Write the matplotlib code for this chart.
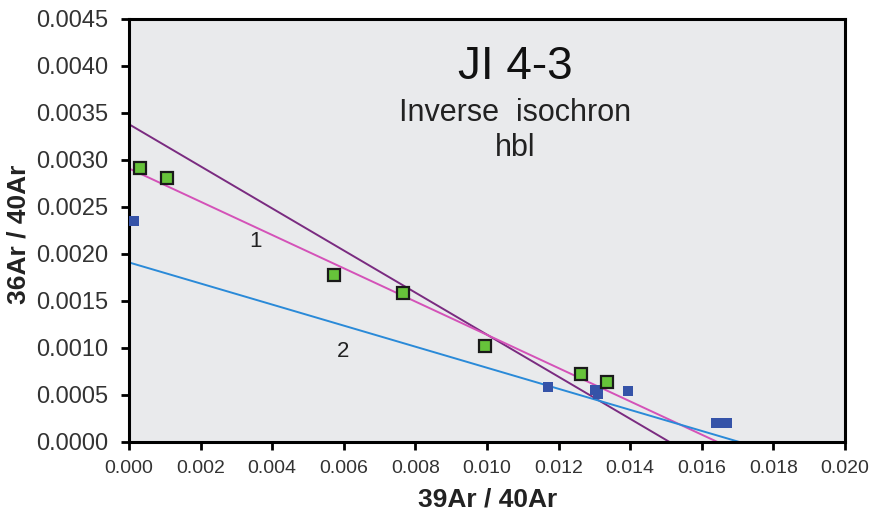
import matplotlib
matplotlib.use("Agg")
import matplotlib.pyplot as plt

plt.rcParams['font.family'] = ['Liberation Sans', 'DejaVu Sans']

# Data
green_x = [0.00032, 0.00105, 0.00573, 0.00766, 0.00994, 0.01263, 0.01334]
green_y = [0.00291, 0.00281, 0.00178, 0.00159, 0.00102, 0.00072, 0.00064]

blue_x = [0.00014, 0.01170, 0.01302, 0.01310, 0.01395, 0.01640, 0.01655, 0.01670]
blue_y = [0.00235, 0.00058, 0.00055, 0.00051, 0.00054, 0.00020, 0.00020, 0.00020]

# regression lines: (y-intercept, x-intercept)
line_names = ['purple', '1', '2']
line_y0 = [0.00338, 0.00291, 0.00191]
line_x0 = [0.01510, 0.01644, 0.01705]
line_colors = ['#7a2b80', '#d452b8', '#2a8ad8']

fig = plt.figure(figsize=(8.76, 5.2), dpi=100)
ax = fig.add_axes([0.1473, 0.15, 0.8173, 0.8135])
ax.set_facecolor('#e9eaec')

for y0, x0, c in zip(line_y0, line_x0, line_colors):
    ax.plot([0, x0], [y0, 0], color=c, lw=1.4, zorder=2)

ax.plot(blue_x, blue_y, 's', color='#3553a8', markersize=7, markeredgewidth=0, zorder=3)
ax.plot(green_x, green_y, 's', color='#66c33a', markersize=9, markeredgecolor='#1a1a1a',
        markeredgewidth=1.6, zorder=4)

ax.text(0.00352, 0.00213, '1', fontsize=16, ha='center', va='center', color='#222222')
ax.text(0.00598, 0.00096, '2', fontsize=16, ha='center', va='center', color='#222222')

ax.text(0.01078, 0.00399, 'JI 4-3', fontsize=33, ha='center', va='center', color='#111111')
ax.text(0.01078, 0.00350, 'Inverse  isochron', fontsize=22, ha='center', va='center', color='#222222')
ax.text(0.01078, 0.00313, 'hbl', fontsize=22, ha='center', va='center', color='#222222')

ax.set_xlim(0, 0.020)
ax.set_ylim(0, 0.0045)
ax.set_xticks([i * 0.002 for i in range(11)])
ax.set_yticks([i * 0.0005 for i in range(10)])
ax.set_xticklabels(['%.3f' % (i * 0.002) for i in range(11)])
ax.set_yticklabels(['%.4f' % (i * 0.0005) for i in range(10)])
ax.tick_params(axis='both', direction='out', length=6, width=2, colors='black',
               labelcolor='#333333')
ax.tick_params(axis='y', labelsize=17, pad=9)
ax.tick_params(axis='x', labelsize=14, pad=7)
for s in ax.spines.values():
    s.set_linewidth(2.2)
    s.set_color('black')

ax.set_xlabel('39Ar / 40Ar', fontsize=19, fontweight='bold', color='#222222', va='center')
ax.set_ylabel('36Ar / 40Ar', fontsize=19, fontweight='bold', color='#222222', va='center')
ax.xaxis.set_label_coords(0.501, -0.137)
ax.yaxis.set_label_coords(-0.155, 0.49)

fig.savefig('out.png', dpi=100)
